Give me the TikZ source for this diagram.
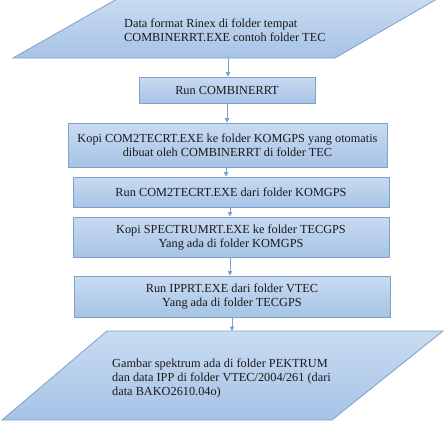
\documentclass[tikz,border=0pt]{standalone}
\usepackage{fontspec}
\setmainfont{Liberation Serif}
\usetikzlibrary{arrows.meta}
\definecolor{bfill}{HTML}{C9DBF1}
\definecolor{bfill2}{HTML}{A6C3E6}
\definecolor{bline}{HTML}{7EA1CE}
\definecolor{txt}{HTML}{1A1A1A}
\tikzset{
  box/.style={draw=bline, line width=0.8pt, top color=bfill, bottom color=bfill2, align=center, inner sep=0pt, text=txt, font=\fontsize{12.3}{14}\selectfont},
  para/.style={draw=bline, line width=0.8pt, top color=bfill, bottom color=bfill2},
  ptext/.style={anchor=west, align=left, inner sep=0pt, text=txt, font=\fontsize{12.3}{14}\selectfont},
  arr/.style={draw=bline, line width=0.8pt, -{Triangle[width=4.5pt,length=4.5pt]}}
}
\begin{document}
\begin{tikzpicture}[x=1pt,y=-1pt]
\useasboundingbox (0,0) rectangle (445,423);
% top parallelogram
\path[para] (13,58) -- (335,58) -- (437,-1) -- (117,-1) -- cycle;
\node[ptext] (t1) at (124,30) {Data format Rinex di folder tempat\\COMBINERRT.EXE contoh folder TEC};
\coordinate (p1b) at (228,58);
% boxes
\node[box, minimum width=176pt, minimum height=26pt] (b1) at (227,90) {Run COMBINERRT};
\node[box, minimum width=319pt, minimum height=44pt] (b2) at (227.5,145) {Kopi COM2TECRT.EXE ke folder KOMGPS yang otomatis\\dibuat oleh COMBINERRT di folder TEC};
\node[box, minimum width=316pt, minimum height=30pt] (b3) at (231,192) {Run COM2TECRT.EXE dari folder KOMGPS};
\node[box, minimum width=316pt, minimum height=40pt] (b4) at (231,237) {Kopi SPECTRUMRT.EXE ke folder TECGPS\\Yang ada di folder KOMGPS};
\node[box, minimum width=316pt, minimum height=41pt] (b5) at (232,296.5) {Run IPPRT.EXE dari folder VTEC\\Yang ada di folder TECGPS};
% bottom parallelogram
\path[para] (107,331) -- (443,331) -- (332,420) -- (2,420) -- cycle;
\coordinate (p2t) at (232,331);
\node[ptext] (t2) at (112,378) {Gambar spektrum ada di folder PEKTRUM\\dan data IPP di folder VTEC/2004/261 (dari\\data BAKO2610.04o)};
% arrows
\draw[arr] (p1b) -- (p1b |- b1.north);
\draw[arr] (b1.south) -- (b1.south |- b2.north);
\draw[arr] ([xshift=-1.5pt]b2.south) -- ([xshift=-1.5pt]b2.south |- b3.north);
\draw[arr] ([xshift=-1pt]b3.south) -- ([xshift=-1pt]b3.south |- b4.north);
\draw[arr] ([xshift=-1pt]b4.south) -- ([xshift=-1pt]b4.south |- b5.north);
\draw[arr] (b5.south) -- (b5.south |- p2t);
\end{tikzpicture}
\end{document}
